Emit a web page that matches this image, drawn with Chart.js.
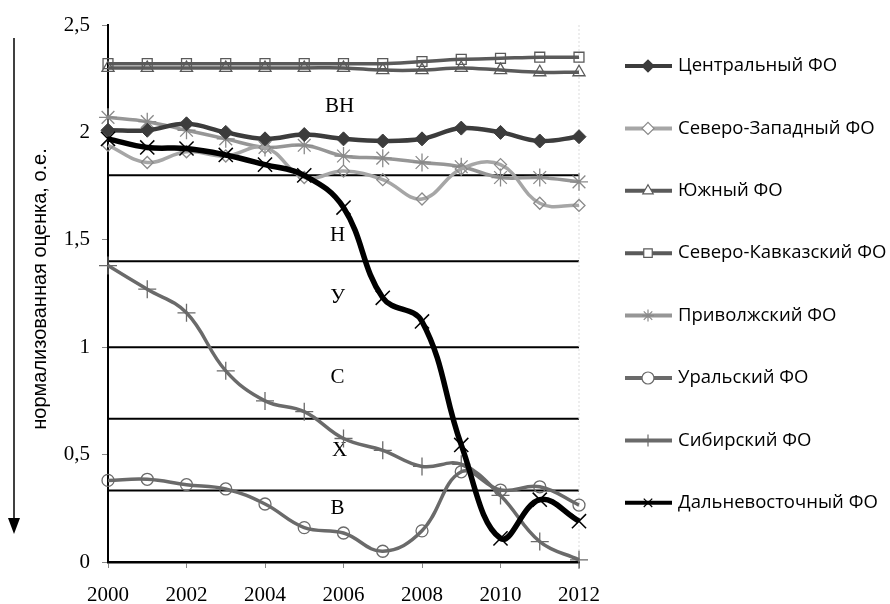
<!DOCTYPE html>
<html>
<head>
<meta charset="utf-8">
<script src="https://cdn.jsdelivr.net/npm/chart.js@4.4.0/dist/chart.umd.min.js"></script>
<style>
  html, body { margin: 0; padding: 0; background: #fff; }
  #wrap { width: 890px; height: 604px; }
</style>
</head>
<body>
<div id="wrap"><canvas id="chart" width="890" height="604"></canvas></div>
<script>
const years = [2000, 2001, 2002, 2003, 2004, 2005, 2006, 2007, 2008, 2009, 2010, 2011, 2012];

const central   = [2.01, 2.01, 2.04, 2.00, 1.97, 1.99, 1.97, 1.96, 1.97, 2.02, 2.00, 1.96, 1.98];
const northWest = [1.94, 1.86, 1.91, 1.89, 1.93, 1.79, 1.82, 1.78, 1.69, 1.83, 1.85, 1.67, 1.66];
const south     = [2.30, 2.30, 2.30, 2.30, 2.30, 2.30, 2.30, 2.29, 2.29, 2.30, 2.29, 2.28, 2.28];
const northCauc = [2.32, 2.32, 2.32, 2.32, 2.32, 2.32, 2.32, 2.32, 2.33, 2.34, 2.345, 2.35, 2.35];
const volga     = [2.07, 2.05, 2.01, 1.97, 1.93, 1.94, 1.89, 1.88, 1.86, 1.84, 1.79, 1.79, 1.77];
const ural      = [0.38, 0.385, 0.36, 0.34, 0.27, 0.16, 0.135, 0.05, 0.145, 0.42, 0.335, 0.35, 0.265];
const siberia   = [1.38, 1.27, 1.16, 0.89, 0.75, 0.70, 0.575, 0.52, 0.445, 0.455, 0.31, 0.095, 0.01];
const farEast   = [1.97, 1.93, 1.925, 1.895, 1.85, 1.80, 1.65, 1.23, 1.12, 0.545, 0.11, 0.29, 0.19];

const seriesNames = ['Центральный ФО', 'Северо-Западный ФО', 'Южный ФО', 'Северо-Кавказский ФО',
  'Приволжский ФО', 'Уральский ФО', 'Сибирский ФО', 'Дальневосточный ФО'];

// zone boundaries and zone names
const bounds = [1.8, 1.4, 1.0, 0.667, 0.333];
const zoneNames = ['ВН', 'Н', 'У', 'С', 'Х', 'В'];
const zoneLabelX = [2005.9, 2005.85, 2005.85, 2005.85, 2005.9, 2005.85];
const zoneLabelY = [2.12, 1.52, 1.23, 0.857, 0.517, 0.251];

const yTicks = [0, 0.5, 1, 1.5, 2, 2.5];
const xTicks = [2000, 2002, 2004, 2006, 2008, 2010, 2012];

function pts(arr) { return arr.map((v, i) => ({ x: years[i], y: v })); }

const styles = [
  { color: '#3c3c3c', width: 4.5, style: 'rectRot',  r: 7, fill: '#3c3c3c', bw: 1 },
  { color: '#a6a6a6', width: 3.5, style: 'rectRot',  r: 6, fill: 'rgba(0,0,0,0)', bw: 1.3 },
  { color: '#5a5a5a', width: 3.5, style: 'triangle', r: 7, fill: 'rgba(0,0,0,0)', bw: 1.3 },
  { color: '#5a5a5a', width: 3.5, style: 'rect',     r: 7, fill: 'rgba(0,0,0,0)', bw: 1.3 },
  { color: '#969696', width: 3.5, style: 'star',     r: 9, fill: 'rgba(0,0,0,0)', bw: 1.3 },
  { color: '#6a6a6a', width: 3.5, style: 'circle',   r: 6, fill: 'rgba(0,0,0,0)', bw: 1.3 },
  { color: '#6a6a6a', width: 3.5, style: 'cross',    r: 9, fill: 'rgba(0,0,0,0)', bw: 1.3 },
  { color: '#000000', width: 5.5, style: 'crossRot', r: 10, fill: 'rgba(0,0,0,0)', bw: 1.5 }
];
const allData = [central, northWest, south, northCauc, volga, ural, siberia, farEast];

const datasets = allData.map((d, i) => ({
  label: seriesNames[i],
  data: pts(d),
  borderColor: styles[i].color,
  borderWidth: styles[i].width,
  pointStyle: styles[i].style,
  pointRadius: styles[i].r,
  pointBorderWidth: styles[i].bw,
  pointBorderColor: i === 1 || i === 4 ? '#8a8a8a' : styles[i].color,
  pointBackgroundColor: styles[i].fill,
  tension: 0.4,
  clip: false,
  order: i === 7 ? -1 : 0
}));

const extras = {
  id: 'extras',
  beforeDatasetsDraw(chart) {
    const ctx = chart.ctx;
    const xs = chart.scales.x, ys = chart.scales.y;
    ctx.save();
    // zone boundary lines
    ctx.strokeStyle = '#000';
    ctx.lineWidth = 2;
    bounds.forEach(b => {
      const y = ys.getPixelForValue(b);
      ctx.beginPath();
      ctx.moveTo(xs.left, y);
      ctx.lineTo(xs.right, y);
      ctx.stroke();
    });
    // faint right border
    ctx.strokeStyle = '#dcdcdc';
    ctx.lineWidth = 1;
    ctx.setLineDash([2, 2]);
    ctx.beginPath();
    ctx.moveTo(xs.right, ys.top);
    ctx.lineTo(xs.right, ys.bottom);
    ctx.stroke();
    ctx.setLineDash([]);
    // zone labels
    ctx.fillStyle = '#000';
    ctx.font = '21px "Liberation Serif"';
    ctx.textAlign = 'center';
    ctx.textBaseline = 'middle';
    zoneNames.forEach((n, i) => {
      ctx.fillText(n, xs.getPixelForValue(zoneLabelX[i]), ys.getPixelForValue(zoneLabelY[i]));
    });
    ctx.restore();
  },
  afterDraw(chart) {
    const ctx = chart.ctx;
    ctx.save();
    // axis title with arrow
    ctx.fillStyle = '#000';
    ctx.strokeStyle = '#000';
    ctx.lineWidth = 1.5;
    ctx.beginPath();
    ctx.moveTo(14, 38);
    ctx.lineTo(14, 520);
    ctx.stroke();
    ctx.beginPath();
    ctx.moveTo(8, 518);
    ctx.lineTo(20, 518);
    ctx.lineTo(14, 534);
    ctx.closePath();
    ctx.fill();
    ctx.translate(40, 289);
    ctx.rotate(-Math.PI / 2);
    ctx.font = '20px "Liberation Sans"';
    ctx.textAlign = 'center';
    ctx.textBaseline = 'middle';
    ctx.fillText('нормализованная оценка, о.е.', 0, 0);
    ctx.restore();

    // legend
    ctx.save();
    chart.data.datasets.forEach((ds, i) => {
      const y = 66 + i * 62.4;
      ctx.strokeStyle = ds.borderColor;
      ctx.lineWidth = 4;
      ctx.beginPath();
      ctx.moveTo(625, y);
      ctx.lineTo(672, y);
      ctx.stroke();
      ctx.strokeStyle = ds.pointBorderColor;
      ctx.fillStyle = ds.pointBackgroundColor === 'rgba(0,0,0,0)' ? '#fff' : ds.pointBackgroundColor;
      ctx.lineWidth = 1.2;
      Chart.helpers.drawPoint(ctx, { pointStyle: ds.pointStyle, radius: Math.min(ds.pointRadius, 6), rotation: 0, borderWidth: 1.2 }, 648, y);
      ctx.fillStyle = '#000';
      ctx.font = '18.5px "Open Sans"';
      ctx.textAlign = 'left';
      ctx.textBaseline = 'middle';
      ctx.fillText(ds.label, 678, y);
    });
    ctx.restore();
  }
};

new Chart(document.getElementById('chart'), {
  type: 'line',
  data: { datasets },
  options: {
    responsive: false,
    animation: false,
    layout: { padding: { left: 0, top: 25, right: 311, bottom: 0 } },
    plugins: { legend: { display: false }, tooltip: { enabled: false } },
    scales: {
      x: {
        type: 'linear',
        min: 2000, max: 2012,
        afterFit(s) { s.height = 42; },
        afterBuildTicks(s) { s.ticks = xTicks.map(v => ({ value: v })); },
        ticks: { callback: v => String(v), font: { family: 'Liberation Serif', size: 21 }, color: '#000', padding: 15, maxRotation: 0 },
        grid: { drawOnChartArea: false, drawTicks: true, tickLength: 6, color: '#888' },
        border: { display: true, color: '#000', width: 2.5 }
      },
      y: {
        min: 0, max: 2.5,
        afterFit(s) { s.width = 108; },
        afterBuildTicks(s) { s.ticks = yTicks.map(v => ({ value: v })); },
        ticks: { callback: v => String(v).replace('.', ','), font: { family: 'Liberation Serif', size: 21 }, color: '#000', padding: 12 },
        grid: { drawOnChartArea: false, drawTicks: true, tickLength: 6, color: '#888' },
        border: { display: true, color: '#000', width: 2 }
      }
    }
  },
  plugins: [extras]
});
</script>
</body>
</html>
